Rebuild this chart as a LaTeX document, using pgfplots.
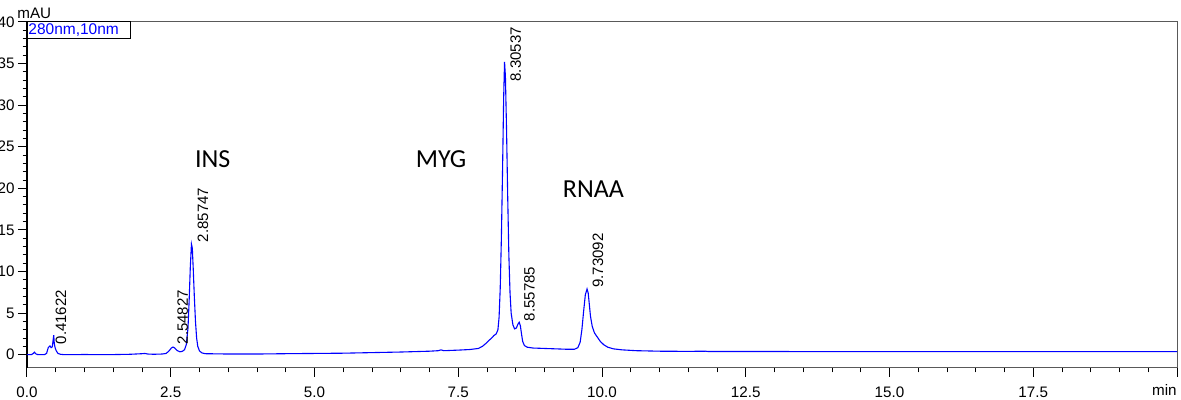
\documentclass[border=0pt]{standalone}
\usepackage{fontspec}
\setmainfont{Liberation Sans}
\newfontfamily\calib{Carlito}
\usepackage{pgfplots}
\pgfplotsset{compat=1.18}
\begin{document}
\begin{tikzpicture}
\begin{axis}[
  scale only axis,
  width=575pt, height=173pt,
  xmin=0, xmax=20, ymin=-1.6, ymax=40,
  axis line style={black!65, line width=0.5pt},
  xtick={0,2.5,5,7.5,10,12.5,15,17.5,20},
  xticklabels={0.0,2.5,5.0,7.5,10.0,12.5,15.0,17.5,},
  ytick={0,5,10,15,20,25,30,35,40},
  minor x tick num=4, minor y tick num=4,
  tick align=outside,
  xtick pos=bottom, ytick pos=left,
  major tick length=4.5pt, minor tick length=2.2pt,
  tick style={black, line width=0.5pt},
  ticklabel style={font=\fontsize{7.6}{9}\selectfont, inner sep=1.5pt},
  /pgf/number format/assume math mode=true,
  xticklabel style={yshift=-3.3pt},
  clip=false,
]
\draw[black, line width=0.6pt] (rel axis cs:0,0) -- (rel axis cs:0,1);
\addplot[blue, line width=0.55pt] coordinates {
(0.00,0.00) (0.08,0.02) (0.11,0.15) (0.13,0.30) (0.15,0.12) (0.18,0.02)
(0.30,0.00) (0.34,0.15) (0.37,0.85) (0.40,1.05) (0.42,0.85) (0.44,0.95)
(0.455,1.8) (0.465,2.35) (0.475,1.3) (0.49,0.8) (0.51,0.45) (0.54,0.15)
(0.58,0.05) (0.65,0.00) (1.00,0.02) (1.40,0.00) (1.80,0.05) (2.00,0.12)
(2.05,0.15) (2.10,0.08) (2.20,0.05) (2.35,0.08) (2.42,0.15) (2.47,0.45)
(2.51,0.80) (2.54,0.92) (2.57,0.80) (2.61,0.50) (2.66,0.35) (2.70,0.40)
(2.74,0.60) (2.77,1.2) (2.80,3.2) (2.82,6.5) (2.84,10.5) (2.86,13.3)
(2.875,12.8) (2.89,10.5) (2.91,7.0) (2.93,4.0) (2.95,2.0) (2.97,1.0)
(3.00,0.45) (3.04,0.22) (3.10,0.12) (3.50,0.08) (4.00,0.08) (4.50,0.12)
(5.00,0.15) (5.50,0.18) (6.00,0.25) (6.50,0.32) (7.00,0.42) (7.15,0.48)
(7.20,0.58) (7.25,0.48) (7.50,0.55) (7.70,0.62) (7.85,0.75) (7.92,1.0)
(7.98,1.35) (8.04,1.75) (8.08,2.0) (8.12,2.3) (8.16,2.5) (8.19,3.0)
(8.21,4.5) (8.23,8.0) (8.25,14.0) (8.27,22.0) (8.29,31.0) (8.305,35.2)
(8.32,33.5) (8.34,27.0) (8.36,19.0) (8.38,12.0) (8.40,7.5) (8.42,5.0)
(8.45,3.6) (8.48,3.1) (8.51,3.2) (8.54,3.7) (8.56,3.9) (8.58,3.5)
(8.60,2.5) (8.62,1.6) (8.65,1.1) (8.70,0.9) (8.80,0.8) (9.00,0.75)
(9.20,0.70) (9.40,0.65) (9.52,0.65) (9.58,0.85) (9.62,1.5) (9.65,3.0)
(9.68,5.2) (9.71,7.2) (9.74,7.9) (9.76,7.4) (9.78,6.0) (9.80,4.6)
(9.83,3.4) (9.87,2.6) (9.92,2.1) (9.97,1.6) (10.03,1.2) (10.10,0.9)
(10.20,0.7) (10.35,0.58) (10.60,0.48) (11.00,0.42) (11.50,0.40) (11.80,0.42)
(11.85,0.38) (12.00,0.38) (13.00,0.38) (14.00,0.37) (16.00,0.37) (18.00,0.37)
(20.00,0.37)
};
% peak labels
\begin{scope}[every node/.style={rotate=90, anchor=west, inner sep=0pt, font=\fontsize{7.5}{9}\selectfont}]
\node at (axis cs:0.59,1.2) {0.41622};
\node at (axis cs:2.71,1.2) {2.54827};
\node at (axis cs:3.06,13.5) {2.85747};
\node at (axis cs:8.50,32.8) {8.30537};
\node at (axis cs:8.74,4.0) {8.55785};
\node at (axis cs:9.93,8.0) {9.73092};
\end{scope}
% compound names
\node[font=\calib\fontsize{13}{15}\selectfont, inner sep=0pt] at (axis cs:3.23,23.5) {INS};
\node[font=\calib\fontsize{13}{15}\selectfont, inner sep=0pt] at (axis cs:7.20,23.5) {MYG};
\node[font=\calib\fontsize{13}{15}\selectfont, inner sep=0pt] at (axis cs:9.85,19.9) {RNAA};
% unit labels
\node[anchor=base west, inner sep=0pt, font=\fontsize{7.6}{9}\selectfont] at ([xshift=-5pt, yshift=1.5pt]rel axis cs:0,1) {mAU};
\node[anchor=base east, inner sep=0pt, font=\fontsize{7.6}{9}\selectfont] at ([yshift=-14pt]rel axis cs:1,0) {min};
% signal box
\draw[black, line width=0.5pt] (rel axis cs:0,1) rectangle ([xshift=51.5pt, yshift=-8.5pt]rel axis cs:0,1);
\node[anchor=base west, inner sep=0pt, text=blue, font=\fontsize{7.75}{9}\selectfont] at ([xshift=0.5pt, yshift=-6.5pt]rel axis cs:0,1) {280nm,10nm};
\coordinate (SW) at (rel axis cs:0,0);
\coordinate (NE) at (rel axis cs:1,1);
\end{axis}
\pgfresetboundingbox
\path[use as bounding box] ([xshift=-13.5pt, yshift=-16pt]SW) rectangle ([xshift=2pt, yshift=11pt]NE);
\end{tikzpicture}
\end{document}
